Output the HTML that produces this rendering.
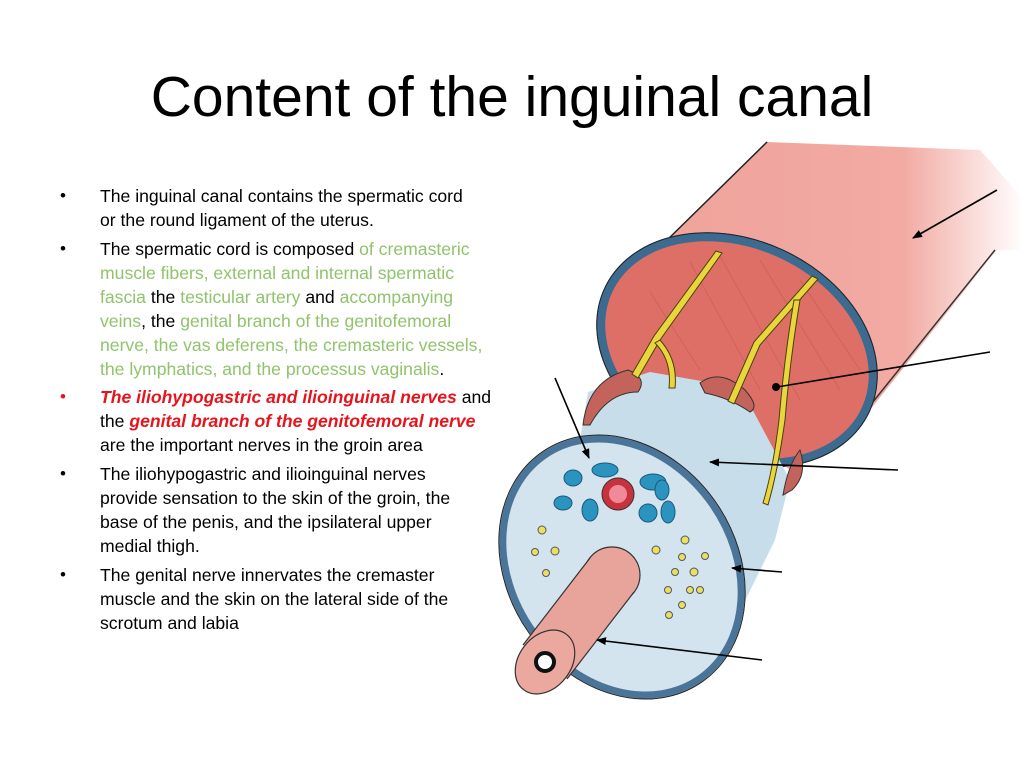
<!DOCTYPE html>
<html><head><meta charset="utf-8"><style>
body{margin:0;width:1024px;height:768px;background:#fff;position:relative;overflow:hidden;font-family:"Liberation Sans",sans-serif}
h1{position:absolute;left:0;width:1024px;top:64px;margin:0;text-align:center;font-weight:normal;font-size:57px;line-height:66px;color:#000}
.l{position:absolute;left:100px;font-size:17.6px;line-height:20px;white-space:nowrap;color:#000}
.b{position:absolute;left:60px;font-size:17px;line-height:20px}
.g{color:#8fc46a}.r{color:#e8141c;font-weight:bold;font-style:italic}
svg{position:absolute;left:0;top:0}
</style></head><body>
<h1>Content of the inguinal canal</h1>
<div class="b" style="top:186px">•</div>
<div class="l" style="top:186px">The inguinal canal contains the spermatic cord</div>
<div class="l" style="top:210px">or the round ligament of the uterus.</div>
<div class="b" style="top:239px">•</div>
<div class="l" style="top:239px">The spermatic cord is composed <span class="g">of cremasteric</span></div>
<div class="l g" style="top:263px">muscle fibers, external and internal spermatic</div>
<div class="l" style="top:287px"><span class="g">fascia</span> the <span class="g">testicular artery</span> and <span class="g">accompanying</span></div>
<div class="l" style="top:311px"><span class="g">veins</span>, the <span class="g">genital branch of the genitofemoral</span></div>
<div class="l g" style="top:335px">nerve, the vas deferens, the cremasteric vessels,</div>
<div class="l" style="top:359px"><span class="g">the lymphatics, and the processus vaginalis</span>.</div>
<div class="b" style="top:387px;color:#e8141c">•</div>
<div class="l" style="top:387px"><span class="r">The iliohypogastric and ilioinguinal nerves</span> and</div>
<div class="l" style="top:411px">the <span class="r">genital branch of the genitofemoral nerve</span></div>
<div class="l" style="top:435px">are the important nerves in the groin area</div>
<div class="b" style="top:464px">•</div>
<div class="l" style="top:464px">The iliohypogastric and ilioinguinal nerves</div>
<div class="l" style="top:488px">provide sensation to the skin of the groin, the</div>
<div class="l" style="top:512px">base of the penis, and the ipsilateral upper</div>
<div class="l" style="top:536px">medial thigh.</div>
<div class="b" style="top:565px">•</div>
<div class="l" style="top:565px">The genital nerve innervates the cremaster</div>
<div class="l" style="top:589px">muscle and the skin on the lateral side of the</div>
<div class="l" style="top:613px">scrotum and labia</div>

<svg width="1024" height="768" viewBox="0 0 1024 768">
<defs>
<linearGradient id="pk" x1="0" y1="0" x2="1" y2="0">
<stop offset="0" stop-color="#eea29a"/><stop offset="0.7" stop-color="#f2aaa2"/><stop offset="1" stop-color="#fff"/></linearGradient>
<marker id="ah" markerWidth="10" markerHeight="8" refX="9" refY="4" orient="auto" markerUnits="userSpaceOnUse"><path d="M0,0 L10,4 L0,8 z" fill="#000"/></marker>
</defs>
<polygon points="660,247 767,142 980,150 1024,200 1024,250 997,250 870,410 790,470 620,330" fill="url(#pk)"/>
<line x1="660" y1="247" x2="767" y2="142" stroke="#222" stroke-width="1.5"/>
<line x1="860" y1="418" x2="995" y2="250" stroke="#333" stroke-width="1.5"/>
<ellipse cx="737" cy="350" rx="142" ry="106" transform="rotate(25 737 350)" fill="#de6f66" stroke="#3d6a8f" stroke-width="9"/>
<ellipse cx="737" cy="350" rx="146" ry="110" transform="rotate(25 737 350)" fill="none" stroke="#222" stroke-width="1"/>
<g stroke="#c85a52" stroke-width="1" opacity="0.6">
<line x1="690" y1="262" x2="760" y2="390"/><line x1="720" y1="256" x2="800" y2="400"/><line x1="760" y1="260" x2="840" y2="390"/><line x1="650" y1="292" x2="700" y2="370"/><line x1="800" y1="280" x2="860" y2="370"/></g>
<polygon points="580,440 588,392 650,372 707,382 750,405 790,480 775,540 733,625 700,600" fill="#c7dde9"/>
<g fill="#c4635c" stroke="#333" stroke-width="1">
<path d="M583,425 Q588,380 628,370 Q648,378 638,392 Q608,392 590,425 z"/>
<path d="M700,383 Q720,368 745,390 Q760,407 750,412 Q730,398 705,393 z"/>
<path d="M792,490 Q808,475 800,450 Q788,465 783,495 z"/></g>
<ellipse cx="622" cy="567" rx="136" ry="110" transform="rotate(55 622 567)" fill="#d3e4ee" stroke="#4a7598" stroke-width="7"/>
<ellipse cx="622" cy="567" rx="140" ry="114" transform="rotate(55 622 567)" fill="none" stroke="#222" stroke-width="1"/>
<g stroke="#4a4010" stroke-width="1" fill="#e9d63c">
<path d="M716,251 L722,253 L660,340 L638,378 L632,374 L654,336 z"/>
<path d="M660,340 Q678,360 675,388 L669,388 Q672,360 655,343 z"/>
<path d="M812,276 L818,279 L760,345 L734,404 L728,401 L754,342 z"/>
<path d="M800,300 Q790,360 785,420 Q778,470 768,505 L763,503 Q773,470 779,420 Q784,360 794,300 z"/></g>
<circle cx="618" cy="494" r="16" fill="#c8323e" stroke="#333"/><circle cx="618" cy="494" r="9" fill="#f08a98"/>
<g fill="#2a93c0" stroke="#1b5a78" stroke-width="1">
<ellipse cx="605" cy="470" rx="13" ry="7"/><ellipse cx="573" cy="478" rx="9" ry="8"/><ellipse cx="563" cy="503" rx="9" ry="7"/>
<ellipse cx="590" cy="510" rx="8" ry="11"/><ellipse cx="653" cy="482" rx="13" ry="8"/><ellipse cx="648" cy="513" rx="9" ry="9"/><ellipse cx="668" cy="512" rx="7" ry="11"/><ellipse cx="662" cy="490" rx="7" ry="10"/></g>
<g fill="#e9e15a" stroke="#556" stroke-width="1">
<circle cx="542" cy="530" r="4"/><circle cx="535" cy="552" r="3.5"/><circle cx="555" cy="551" r="4"/><circle cx="546" cy="573" r="3.5"/>
<circle cx="656" cy="550" r="4"/><circle cx="685" cy="540" r="4"/><circle cx="682" cy="557" r="3.5"/><circle cx="705" cy="556" r="3.5"/>
<circle cx="675" cy="572" r="3.5"/><circle cx="694" cy="572" r="4"/><circle cx="690" cy="590" r="3.5"/><circle cx="668" cy="590" r="3.5"/>
<circle cx="700" cy="590" r="3.5"/><circle cx="682" cy="605" r="3.5"/><circle cx="669" cy="615" r="3.5"/></g>
<circle cx="612" cy="575" r="28" fill="#e8a49a" stroke="#333" stroke-width="1.2"/>
<polygon points="523,645 590,558 634,592 567,679" fill="#e8a49a"/>
<line x1="523" y1="645" x2="590" y2="558" stroke="#333" stroke-width="1.2"/>
<line x1="567" y1="679" x2="634" y2="592" stroke="#333" stroke-width="1.2"/>
<ellipse cx="545" cy="662" rx="26" ry="35" transform="rotate(38 545 662)" fill="#eaa89e" stroke="#333" stroke-width="1.2"/>
<circle cx="545" cy="662" r="9" fill="#fff" stroke="#111" stroke-width="4"/>
<g stroke="#000" stroke-width="1.6" fill="none">
<line x1="997" y1="190" x2="913" y2="238" marker-end="url(#ah)"/>
<line x1="990" y1="352" x2="777" y2="387"/>
<line x1="555" y1="378" x2="589" y2="458" marker-end="url(#ah)"/>
<line x1="898" y1="470" x2="710" y2="462" marker-end="url(#ah)"/>
<line x1="782" y1="572" x2="732" y2="568" marker-end="url(#ah)"/>
<line x1="762" y1="660" x2="597" y2="640" marker-end="url(#ah)"/></g>
<circle cx="776" cy="387" r="4" fill="#000"/>
</svg>
</body></html>
